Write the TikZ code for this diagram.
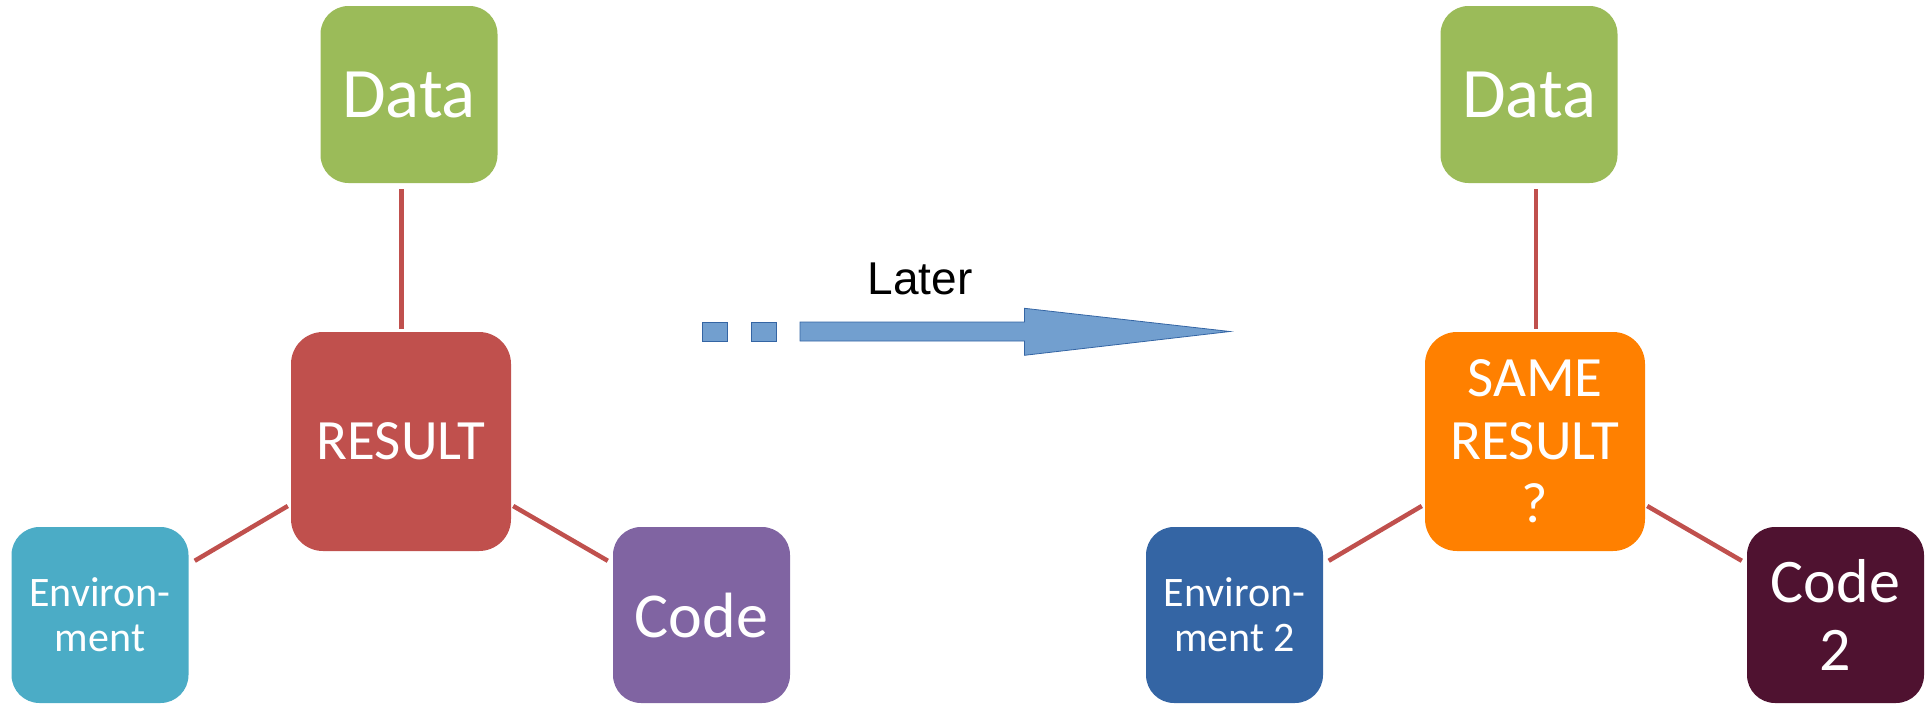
\documentclass[tikz,border=0pt]{standalone}
\usepackage{fontspec}
\setmainfont{Carlito}
\newfontfamily\arialfont{Liberation Sans}
\usetikzlibrary{calc}
\definecolor{cgreen}{HTML}{9BBB59}
\definecolor{cred}{HTML}{C0504D}
\definecolor{ccyan}{HTML}{4BACC6}
\definecolor{cpurple}{HTML}{8064A2}
\definecolor{corange}{HTML}{FF8000}
\definecolor{cblue}{HTML}{3465A4}
\definecolor{cmaroon}{HTML}{4F1230}
\definecolor{arrowfill}{HTML}{729FCF}
\definecolor{arrowdraw}{HTML}{3465A4}
\tikzset{
  box/.style={rectangle, rounded corners=28pt, inner sep=0pt, text=white, align=center},
  smallbox/.style={box, minimum width=177pt, minimum height=176pt},
  bigbox/.style={box, minimum width=220pt, minimum height=219pt, rounded corners=32pt},
  link/.style={draw=cred, line width=4.5pt},
  arrowpart/.style={fill=arrowfill, draw=arrowdraw, line width=0.8pt},
}
\begin{document}
\begin{tikzpicture}[x=1pt,y=-1pt]
\useasboundingbox (0,0) rectangle (1928,704);
% left group
\node[smallbox, fill=cgreen, minimum height=177pt, font=\fontsize{71}{76}\selectfont] (dataL) at (409,94.5) {Data};
\node[bigbox, fill=cred, font=\fontsize{57}{63}\selectfont] (resL) at (401,441.5) {RESULT};
\node[smallbox, fill=ccyan, font=\fontsize{42}{45}\selectfont] (envL) at (100,615) {Environ-\\ment};
\node[smallbox, fill=cpurple, font=\fontsize{64}{68}\selectfont] (codeL) at (701.5,615) {Code};
\draw[link] ($(dataL.south -| resL.north)+(0.5,6)$) -- ($(resL.north)+(0.5,-3)$);
\draw[link] ($(envL.north east)+(6,34)$) -- ($(resL.west)+(-3,64.5)$);
\draw[link] ($(resL.east)+(2,64.5)$) -- ($(codeL.north west)+(-5,34)$);
% right group
\node[smallbox, fill=cgreen, minimum height=177pt, font=\fontsize{71}{76}\selectfont] (dataR) at (1529,94.5) {Data};
\node[bigbox, fill=corange, font=\fontsize{57}{63}\selectfont] (resR) at (1535,441.5) {SAME\\RESULT\\?};
\node[smallbox, fill=cblue, font=\fontsize{42}{45}\selectfont] (envR) at (1234.5,615) {Environ-\\ment 2};
\node[smallbox, fill=cmaroon, font=\fontsize{62}{68}\selectfont] (codeR) at (1835.5,615) {Code\\2};
\draw[link] ($(dataR.south -| resR.north)+(1,6)$) -- ($(resR.north)+(1,-3)$);
\draw[link] ($(envR.north east)+(5.5,34)$) -- ($(resR.west)+(-3,64.5)$);
\draw[link] ($(resR.east)+(2,64.5)$) -- ($(codeR.north west)+(-5,34)$);
% arrow
\draw[arrowpart] (702,322) rectangle (727,341);
\draw[arrowpart] (751,322) rectangle (776,341);
\draw[arrowpart] (800,322) -- (1024.5,322) -- (1024.5,308.3) -- (1230,331.5) -- (1024.5,355.3) -- (1024.5,341) -- (800,341) -- cycle;
\node[anchor=base, inner sep=0pt, font=\arialfont\fontsize{46}{50}\selectfont] (later) at (920,294) {Later};
\end{tikzpicture}
\end{document}
